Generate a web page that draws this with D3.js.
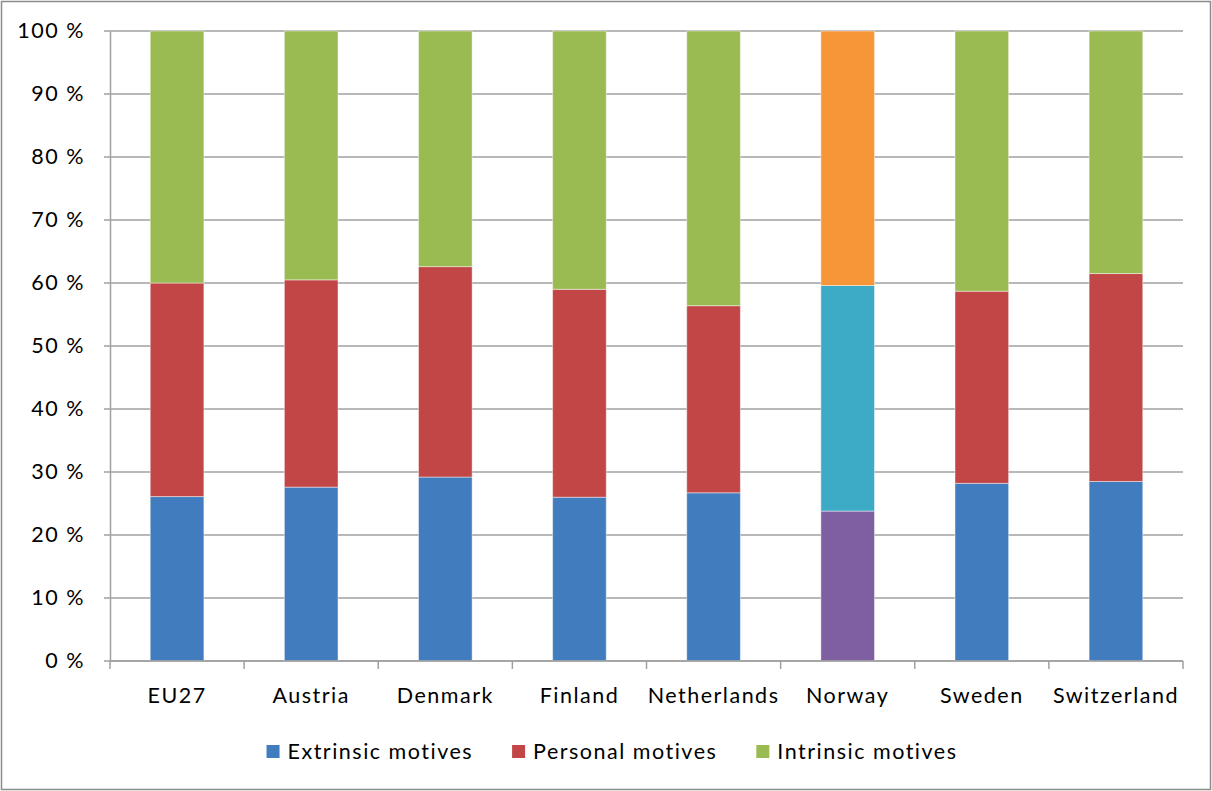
<!DOCTYPE html>
<html>
<head>
<meta charset="utf-8">
<script src="https://cdn.jsdelivr.net/npm/d3@7"></script>
<style>
body { margin: 0; background: #fff; }
text { font-family: Lato, "Open Sans", sans-serif; fill: #000; letter-spacing: 1.5px; }
</style>
</head>
<body>
<div id="chart"></div>
<script>
var countries = ["EU27", "Austria", "Denmark", "Finland", "Netherlands", "Norway", "Sweden", "Switzerland"];
var extrinsic = [26.1, 27.6, 29.2, 26.0, 26.7, 23.8, 28.2, 28.5];
var personal = [33.9, 32.9, 33.4, 33.0, 29.7, 35.8, 30.5, 33.0];
var intrinsic = [40.0, 39.5, 37.4, 41.0, 43.6, 40.4, 41.3, 38.5];
var seriesNames = ["Extrinsic motives", "Personal motives", "Intrinsic motives"];
var yTicks = [0, 10, 20, 30, 40, 50, 60, 70, 80, 90, 100];

var w = 1212;
var h = 791;
var margin = { top: 31, right: 29, bottom: 130, left: 110 };
var fontSize = "21.5px";

// office colours; Norway is drawn in the alternative palette
var colors = ["#417dbe", "#c24646", "#9aba52"];
var norwayColors = ["#7f5fa2", "#3daac6", "#f79539"];

var dataset = countries.map(function(c, i) {
	return { country: c, extrinsic: extrinsic[i], personal: personal[i], intrinsic: intrinsic[i] };
});

var stack = d3.stack()
				.keys(["extrinsic", "personal", "intrinsic"]);
var series = stack(dataset);

var svg = d3.select("#chart")
			.append("svg")
			.attr("width", w)
			.attr("height", h);

// outer frame
svg.append("rect")
	.attr("x", 1.5).attr("y", 1.5)
	.attr("width", w - 3).attr("height", h - 3)
	.attr("fill", "none")
	.attr("stroke", "#8c8c8c")
	.attr("stroke-width", 1.5);

var xScale = d3.scaleBand()
				.domain(countries)
				.range([margin.left, w - margin.right])
				.paddingInner(0.6)
				.paddingOuter(0.3);

var yScale = d3.scaleLinear()
				.domain([0, 100])
				.range([h - margin.bottom, margin.top]);

// gridlines
svg.append("g")
	.selectAll("line")
	.data(yTicks)
	.enter()
	.append("line")
	.attr("x1", margin.left - 6)
	.attr("x2", w - margin.right)
	.attr("y1", function(d) { return yScale(d); })
	.attr("y2", function(d) { return yScale(d); })
	.attr("stroke", "#a0a0a0")
	.attr("stroke-width", 1.5);

// y axis
var yAxis = d3.axisLeft(yScale)
				.tickValues(yTicks)
				.tickFormat(function(d) { return d + " %"; })
				.tickSize(0)
				.tickPadding(25);
var yG = svg.append("g")
	.attr("transform", "translate(" + margin.left + ",0)")
	.call(yAxis);
yG.select(".domain").attr("stroke", "#a0a0a0").attr("stroke-width", 1.5);
yG.selectAll("text").style("font-size", fontSize).style("font-family", "Lato, sans-serif");

// bars
var groups = svg.selectAll("g.layer")
				.data(series)
				.enter()
				.append("g")
				.attr("class", "layer");

groups.selectAll("rect")
	.data(function(d, si) { return d.map(function(p) { return { p: p, si: si }; }); })
	.enter()
	.append("rect")
	.attr("x", function(d) { return xScale(d.p.data.country); })
	.attr("y", function(d) { return yScale(d.p[1]); })
	.attr("height", function(d) { return yScale(d.p[0]) - yScale(d.p[1]); })
	.attr("width", xScale.bandwidth())
	.attr("fill", function(d) {
		return d.p.data.country === "Norway" ? norwayColors[d.si] : colors[d.si];
	})
	.attr("stroke", "rgba(255,255,255,0.45)")
	.attr("stroke-width", 1);

// x axis with ticks at category boundaries
var x0 = margin.left, x1 = w - margin.right;
var step = (x1 - x0) / countries.length;
var xG = svg.append("g");
xG.append("line")
	.attr("x1", x0).attr("x2", x1)
	.attr("y1", yScale(0)).attr("y2", yScale(0))
	.attr("stroke", "#a0a0a0").attr("stroke-width", 1.5);
xG.selectAll("line.tick")
	.data(d3.range(countries.length + 1))
	.enter()
	.append("line")
	.attr("class", "tick")
	.attr("x1", function(i) { return x0 + i * step; })
	.attr("x2", function(i) { return x0 + i * step; })
	.attr("y1", yScale(0))
	.attr("y2", yScale(0) + 8)
	.attr("stroke", "#a0a0a0").attr("stroke-width", 1.5);
xG.selectAll("text")
	.data(countries)
	.enter()
	.append("text")
	.attr("x", function(d) { return xScale(d) + xScale.bandwidth() / 2; })
	.attr("y", 703)
	.attr("text-anchor", "middle")
	.style("font-size", fontSize)
	.text(function(d) { return d; });

// legend
var legend = svg.append("g");
var items = legend.selectAll("g")
	.data(seriesNames)
	.enter()
	.append("g");
items.append("rect")
	.attr("width", 13).attr("height", 13)
	.attr("y", 745)
	.attr("fill", function(d, i) { return colors[i]; });
items.append("text")
	.attr("y", 759)
	.attr("x", 21)
	.style("font-size", fontSize)
	.text(function(d) { return d; });

var pos = 0;
var offsets = [];
items.each(function() {
	offsets.push(pos);
	var tw = d3.select(this).select("text").node().getComputedTextLength();
	pos += 21 + tw + 39;
});
var total = pos - 39;
var start = 612 - total / 2;
items.attr("transform", function(d, i) { return "translate(" + (start + offsets[i]) + ",0)"; });
items.select("rect").attr("x", 0);
</script>
</body>
</html>
